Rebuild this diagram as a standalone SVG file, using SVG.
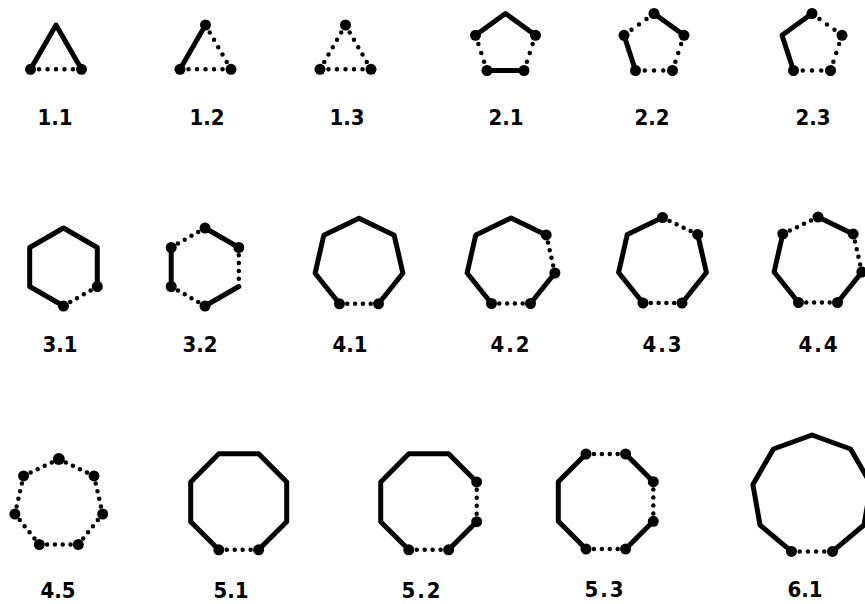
<svg xmlns="http://www.w3.org/2000/svg" width="865" height="604" viewBox="0 0 865 604">
<style>
.s{fill:none;stroke:#000;stroke-width:5;stroke-linecap:round;stroke-linejoin:round}
.d{fill:none;stroke:#000;stroke-width:4.5;stroke-linecap:round;stroke-dasharray:0 1}
.v{fill:#000}
.lb{font-family:"DejaVu Sans Condensed","DejaVu Sans",sans-serif;font-weight:bold;font-size:22px;fill:#000;text-anchor:middle}
.sp{letter-spacing:2px}
</style>
<rect width="865" height="604" fill="#fff"/>

<!-- Row 1 -->
<g id="f1-1">
<path class="s" d="M30.5 69.3 L56 25 L81.5 69.3"/>
<path class="d" pathLength="6" d="M30.5 69.3 L81.5 69.3"/>
<circle class="v" cx="30.5" cy="69.3" r="5.5"/><circle class="v" cx="81.5" cy="69.3" r="5.5"/>
<text class="lb" x="55" y="125">1.1</text>
</g>
<g id="f1-2">
<path class="s" d="M180 69.3 L205.5 25"/>
<path class="d" pathLength="6" d="M205.5 25 L231 69.3"/>
<path class="d" pathLength="6" d="M180 69.3 L231 69.3"/>
<circle class="v" cx="205.5" cy="25" r="5.5"/><circle class="v" cx="180" cy="69.3" r="5.5"/><circle class="v" cx="231" cy="69.3" r="5.5"/>
<text class="lb" x="207" y="125">1.2</text>
</g>
<g id="f1-3">
<path class="d" pathLength="6" d="M320 69.3 L345.5 25"/>
<path class="d" pathLength="6" d="M345.5 25 L371 69.3"/>
<path class="d" pathLength="6" d="M320 69.3 L371 69.3"/>
<circle class="v" cx="345.5" cy="25" r="5.5"/><circle class="v" cx="320" cy="69.3" r="5.5"/><circle class="v" cx="371" cy="69.3" r="5.5"/>
<text class="lb" x="347" y="125">1.3</text>
</g>
<g id="f2-1">
<path class="s" d="M475.5 35.3 L505.5 13.5 L535.5 35.3"/>
<path class="s" d="M487 70.5 L524 70.5"/>
<path class="d" pathLength="4" d="M475.5 35.3 L487 70.5"/>
<path class="d" pathLength="4" d="M535.5 35.3 L524 70.5"/>
<circle class="v" cx="475.5" cy="35.3" r="5.5"/><circle class="v" cx="535.5" cy="35.3" r="5.5"/><circle class="v" cx="487" cy="70.5" r="5.5"/><circle class="v" cx="524" cy="70.5" r="5.5"/>
<text class="lb" x="506" y="125">2.1</text>
</g>
<g id="f2-2">
<path class="s" d="M654 13.5 L684 35.3"/>
<path class="s" d="M624 35.3 L635.5 70.5"/>
<path class="d" pathLength="4" d="M624 35.3 L654 13.5"/>
<path class="d" pathLength="4" d="M684 35.3 L672.5 70.5"/>
<path class="d" pathLength="4" d="M635.5 70.5 L672.5 70.5"/>
<circle class="v" cx="654" cy="13.5" r="5.5"/><circle class="v" cx="624" cy="35.3" r="5.5"/><circle class="v" cx="684" cy="35.3" r="5.5"/><circle class="v" cx="635.5" cy="70.5" r="5.5"/><circle class="v" cx="672.5" cy="70.5" r="5.5"/>
<text class="lb" x="652" y="125">2.2</text>
</g>
<g id="f2-3">
<path class="s" d="M793.5 70.5 L782 35.3 L812 13.5"/>
<path class="d" pathLength="4" d="M812 13.5 L842 35.3"/>
<path class="d" pathLength="4" d="M842 35.3 L830.5 70.5"/>
<path class="d" pathLength="4" d="M793.5 70.5 L830.5 70.5"/>
<circle class="v" cx="812" cy="13.5" r="5.5"/><circle class="v" cx="842" cy="35.3" r="5.5"/><circle class="v" cx="830.5" cy="70.5" r="5.5"/><circle class="v" cx="793.5" cy="70.5" r="5.5"/>
<text class="lb" x="813" y="125">2.3</text>
</g>

<!-- Row 2 -->
<g id="f3-1">
<path class="s" d="M97.3 286.5 L97.3 247.5 L63.5 228 L29.7 247.5 L29.7 286.5 L63.5 306"/>
<path class="d" pathLength="5" d="M97.3 286.5 L63.5 306"/>
<circle class="v" cx="97.3" cy="286.5" r="5.5"/><circle class="v" cx="63.5" cy="306" r="5.5"/>
<text class="lb" x="60" y="352">3.1</text>
</g>
<g id="f3-2">
<path class="s" d="M205 228 L238.8 247.5"/>
<path class="s" d="M238.8 286.5 L205 306"/>
<path class="s" d="M171.2 286.5 L171.2 247.5"/>
<path class="d" pathLength="5" d="M171.2 247.5 L205 228"/>
<path class="d" pathLength="5" d="M238.8 247.5 L238.8 286.5"/>
<path class="d" pathLength="5" d="M205 306 L171.2 286.5"/>
<circle class="v" cx="205" cy="228" r="5.5"/><circle class="v" cx="238.8" cy="247.5" r="5.5"/><circle class="v" cx="171.2" cy="247.5" r="5.5"/><circle class="v" cx="171.2" cy="286.5" r="5.5"/><circle class="v" cx="205" cy="306" r="5.5"/>
<text class="lb" x="200" y="352">3.2</text>
</g>
<g id="f4-1">
<path class="s" d="M339.5 303.8 L315.1 273.3 L323.8 235.2 L359 218.3 L394.2 235.2 L402.9 273.3 L378.5 303.8"/>
<path class="d" pathLength="5" d="M339.5 303.8 L378.5 303.8"/>
<circle class="v" cx="339.5" cy="303.8" r="5.5"/><circle class="v" cx="378.5" cy="303.8" r="5.5"/>
<text class="lb" x="350" y="352">4.1</text>
</g>
<g id="f4-2">
<path class="s" d="M491.5 303.5 L467.1 273 L475.8 234.9 L511 218 L546.2 234.9"/>
<path class="s" d="M554.9 273 L530.5 303.5"/>
<path class="d" pathLength="5" d="M546.2 234.9 L554.9 273"/>
<path class="d" pathLength="5" d="M491.5 303.5 L530.5 303.5"/>
<circle class="v" cx="546.2" cy="234.9" r="5.5"/><circle class="v" cx="554.9" cy="273" r="5.5"/><circle class="v" cx="530.5" cy="303.5" r="5.5"/><circle class="v" cx="491.5" cy="303.5" r="5.5"/>
<text class="lb sp" x="511" y="352">4.2</text>
</g>
<g id="f4-3">
<path class="s" d="M697.7 234.4 L706.4 272.5 L682 303"/>
<path class="s" d="M643 303 L618.6 272.5 L627.3 234.4 L662.5 217.5"/>
<path class="d" pathLength="5" d="M662.5 217.5 L697.7 234.4"/>
<path class="d" pathLength="5" d="M643 303 L682 303"/>
<circle class="v" cx="662.5" cy="217.5" r="5.5"/><circle class="v" cx="697.7" cy="234.4" r="5.5"/><circle class="v" cx="643" cy="303" r="5.5"/><circle class="v" cx="682" cy="303" r="5.5"/>
<text class="lb sp" x="663" y="352">4.3</text>
</g>
<g id="f4-4">
<path class="s" d="M818 217 L853.2 233.9"/>
<path class="s" d="M861.9 272 L837.5 302.5"/>
<path class="s" d="M798.5 302.5 L774.1 272 L782.8 233.9"/>
<path class="d" pathLength="5" d="M782.8 233.9 L818 217"/>
<path class="d" pathLength="5" d="M853.2 233.9 L861.9 272"/>
<path class="d" pathLength="5" d="M798.5 302.5 L837.5 302.5"/>
<circle class="v" cx="782.8" cy="233.9" r="5.5"/><circle class="v" cx="818" cy="217" r="5.5"/><circle class="v" cx="853.2" cy="233.9" r="5.5"/><circle class="v" cx="861.9" cy="272" r="5.5"/><circle class="v" cx="837.5" cy="302.5" r="5.5"/><circle class="v" cx="798.5" cy="302.5" r="5.5"/>
<text class="lb sp" x="819" y="352">4.4</text>
</g>

<!-- Row 3 -->
<g id="f4-5">
<path class="d" pathLength="5" d="M58.8 459 L94 475.9"/>
<path class="d" pathLength="5" d="M94 475.9 L102.7 514"/>
<path class="d" pathLength="5" d="M102.7 514 L78.3 544.5"/>
<path class="d" pathLength="5" d="M78.3 544.5 L39.3 544.5"/>
<path class="d" pathLength="5" d="M39.3 544.5 L14.9 514"/>
<path class="d" pathLength="5" d="M14.9 514 L23.6 475.9"/>
<path class="d" pathLength="5" d="M23.6 475.9 L58.8 459"/>
<circle class="v" cx="58.8" cy="459" r="6"/><circle class="v" cx="94" cy="475.9" r="5.5"/><circle class="v" cx="102.7" cy="514" r="5.5"/><circle class="v" cx="78.3" cy="544.5" r="5.5"/><circle class="v" cx="39.3" cy="544.5" r="5.5"/><circle class="v" cx="14.9" cy="514" r="5.5"/><circle class="v" cx="23.6" cy="475.9" r="5.5"/>
<text class="lb" x="58" y="598">4.5</text>
</g>
<g id="f5-1">
<path class="s" d="M258.6 549.8 L286.7 521.7 L286.7 481.9 L258.6 453.8 L218.8 453.8 L190.7 481.9 L190.7 521.7 L218.8 549.8"/>
<path class="d" pathLength="5" d="M218.8 549.8 L258.6 549.8"/>
<circle class="v" cx="218.8" cy="549.8" r="5.5"/><circle class="v" cx="258.6" cy="549.8" r="5.5"/>
<text class="lb" x="231" y="598">5.1</text>
</g>
<g id="f5-2">
<path class="s" d="M476.7 481.9 L448.6 453.8 L408.8 453.8 L380.7 481.9 L380.7 521.7 L408.8 549.8"/>
<path class="s" d="M448.6 549.8 L476.7 521.7"/>
<path class="d" pathLength="5" d="M476.7 481.9 L476.7 521.7"/>
<path class="d" pathLength="5" d="M408.8 549.8 L448.6 549.8"/>
<circle class="v" cx="476.7" cy="481.9" r="5.5"/><circle class="v" cx="476.7" cy="521.7" r="5.5"/><circle class="v" cx="448.6" cy="549.8" r="5.5"/><circle class="v" cx="408.8" cy="549.8" r="5.5"/>
<text class="lb sp" x="422" y="598">5.2</text>
</g>
<g id="f5-3">
<path class="s" d="M625.6 454 L653.3 481.7"/>
<path class="s" d="M653.3 521.3 L625.6 549"/>
<path class="s" d="M586 549 L558.3 521.3 L558.3 481.7 L586 454"/>
<path class="d" pathLength="5" d="M586 454 L625.6 454"/>
<path class="d" pathLength="5" d="M653.3 481.7 L653.3 521.3"/>
<path class="d" pathLength="5" d="M586 549 L625.6 549"/>
<circle class="v" cx="586" cy="454" r="5.5"/><circle class="v" cx="625.6" cy="454" r="5.5"/><circle class="v" cx="653.3" cy="481.7" r="5.5"/><circle class="v" cx="653.3" cy="521.3" r="5.5"/><circle class="v" cx="625.6" cy="549" r="5.5"/><circle class="v" cx="586" cy="549" r="5.5"/>
<text class="lb sp" x="605" y="597">5.3</text>
</g>
<g id="f6-1">
<path class="s" d="M832.5 551.4 L864 525 L871.1 484.6 L850.6 449 L812 435 L773.4 449 L752.9 484.6 L760 525 L791.5 551.4"/>
<path class="d" pathLength="5" d="M791.5 551.4 L832.5 551.4"/>
<circle class="v" cx="791.5" cy="551.4" r="5.5"/><circle class="v" cx="832.5" cy="551.4" r="5.5"/>
<text class="lb" x="805" y="597">6.1</text>
</g>
</svg>
